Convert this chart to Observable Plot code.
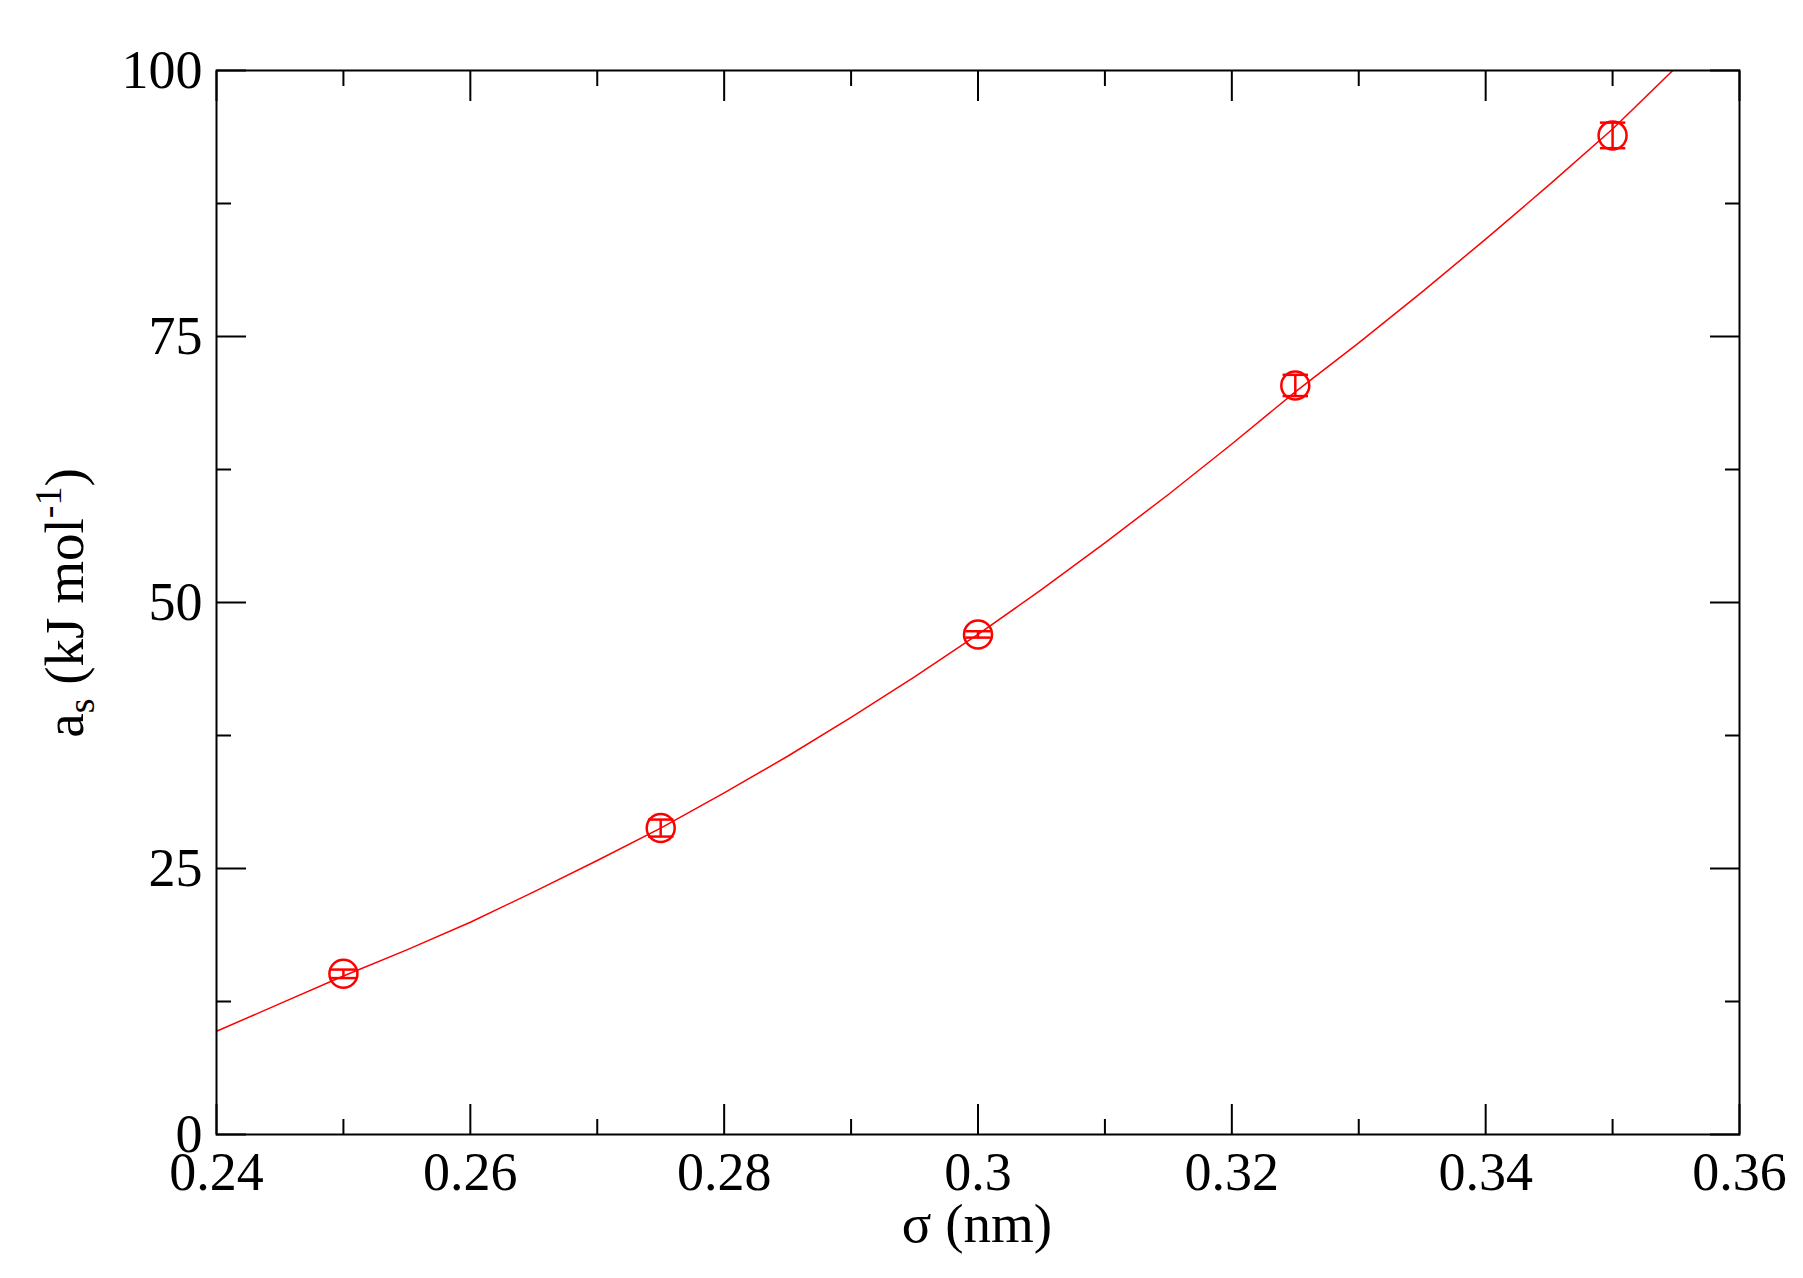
<!DOCTYPE html>
<html><head><meta charset="utf-8">
<script src="https://cdn.jsdelivr.net/npm/d3@7"></script>
<script src="https://cdn.jsdelivr.net/npm/@observablehq/plot@0.6"></script>
<style>body{margin:0;background:#fff} svg{display:block}</style>
</head><body><div id="chart"></div>
<script>
// measured points
const sigma = [0.25, 0.275, 0.3, 0.325, 0.35];
const aS = [15.1, 28.8, 47.0, 70.4, 93.9];
const aSErr = [0.4, 0.8, 0.3, 1.0, 1.2];
// fitted curve
const fitSigma = [0.240,0.245,0.250,0.255,0.260,0.265,0.270,0.275,0.280,0.285,0.290,0.295,0.300,0.305,0.310,0.315,0.320,0.325,0.330,0.335,0.340,0.345,0.350,0.355];
const fitA = [9.7,12.3,14.9,17.35,19.95,22.8,25.75,28.8,32.1,35.55,39.2,43.0,47.0,51.2,55.6,60.15,64.9,69.8,74.4,79.2,84.15,89.25,94.5,100.3];
// ticks
const xMajorTicks = [0.24,0.26,0.28,0.30,0.32,0.34,0.36];
const xMinorTicks = [0.25,0.27,0.29,0.31,0.33,0.35];
const yMajorTicks = [0,25,50,75,100];
const yMinorTicks = [12.5,37.5,62.5,87.5];
const xTickLabels = ["0.24","0.26","0.28","0.3","0.32","0.34","0.36"];
const yTickLabels = ["0","25","50","75","100"];
const capHalf = 0.001;

const points = sigma.map((s,i) => ({x: s, y: aS[i], e: aSErr[i]}));
const fit = fitSigma.map((s,i) => ({x: s, y: fitA[i]}));
const font = "'Liberation Serif', 'Times New Roman', serif";
const lab = (arr, labels) => d => labels[arr.findIndex(t => Math.abs(t - d) < 1e-9)];
const blank = () => "";

const W = 1803, H = 1278;
const svg = Plot.plot({
  width: W, height: H,
  marginLeft: 216, marginRight: 64, marginTop: 70, marginBottom: 144,
  style: {fontFamily: font, background: "#fff", color: "#000"},
  x: {domain: [0.24, 0.36], label: null},
  y: {domain: [0, 100], label: null},
  marks: [
    Plot.line(fit, {x: "x", y: "y", stroke: "#ff0000", strokeWidth: 1.5, clip: true}),
    Plot.ruleX(points, {x: "x", y1: d => d.y - d.e, y2: d => d.y + d.e, stroke: "#ff0000", strokeWidth: 2.5}),
    Plot.link(points, {x1: d => d.x - capHalf, x2: d => d.x + capHalf, y1: d => d.y - d.e, y2: d => d.y - d.e, stroke: "#ff0000", strokeWidth: 2.5}),
    Plot.link(points, {x1: d => d.x - capHalf, x2: d => d.x + capHalf, y1: d => d.y + d.e, y2: d => d.y + d.e, stroke: "#ff0000", strokeWidth: 2.5}),
    Plot.dot(points, {x: "x", y: "y", r: 14, stroke: "#ff0000", strokeWidth: 2.5, fill: "none"}),
    // inward ticks
    Plot.axisX({ticks: xMajorTicks, anchor: "bottom", tickSize: -30, strokeWidth: 2, tickFormat: blank, label: null}),
    Plot.axisX({ticks: xMinorTicks, anchor: "bottom", tickSize: -15, strokeWidth: 2, tickFormat: blank, label: null}),
    Plot.axisX({ticks: xMajorTicks, anchor: "top", tickSize: -30, strokeWidth: 2, tickFormat: blank, label: null}),
    Plot.axisX({ticks: xMinorTicks, anchor: "top", tickSize: -15, strokeWidth: 2, tickFormat: blank, label: null}),
    Plot.axisY({ticks: yMajorTicks, anchor: "left", tickSize: -30, strokeWidth: 2, tickFormat: blank, label: null}),
    Plot.axisY({ticks: yMinorTicks, anchor: "left", tickSize: -15, strokeWidth: 2, tickFormat: blank, label: null}),
    Plot.axisY({ticks: yMajorTicks, anchor: "right", tickSize: -30, strokeWidth: 2, tickFormat: blank, label: null}),
    Plot.axisY({ticks: yMinorTicks, anchor: "right", tickSize: -15, strokeWidth: 2, tickFormat: blank, label: null}),
    // labels
    Plot.axisX({ticks: xMajorTicks, anchor: "bottom", tickSize: 0, tickPadding: 17, fontSize: 54, fill: "#000", tickFormat: lab(xMajorTicks, xTickLabels), label: null}),
    Plot.axisY({ticks: yMajorTicks, anchor: "left", tickSize: 0, tickPadding: 14, fontSize: 54, fill: "#000", tickFormat: lab(yMajorTicks, yTickLabels), label: null}),
    Plot.frame({stroke: "#000", strokeWidth: 2})
  ]
});
document.getElementById("chart").appendChild(svg);

const s = d3.select(svg);
// x title
s.append("text")
  .attr("x", 977).attr("y", 1242)
  .attr("text-anchor", "middle")
  .attr("font-family", font).attr("font-size", 55).attr("fill", "#000")
  .text("σ (nm)");
// y title with sub/superscripts
const yt = s.append("text")
  .attr("transform", "translate(83,603) rotate(-90)")
  .attr("text-anchor", "middle")
  .attr("font-family", font).attr("font-size", 55).attr("fill", "#000");
yt.append("tspan").text("a");
yt.append("tspan").attr("font-size", 38).attr("dy", 11).text("s");
yt.append("tspan").attr("dy", -11).text(" (kJ mol");
yt.append("tspan").attr("font-size", 38).attr("dy", -22).text("-1");
yt.append("tspan").attr("dy", 22).text(")");
</script>
</body></html>
